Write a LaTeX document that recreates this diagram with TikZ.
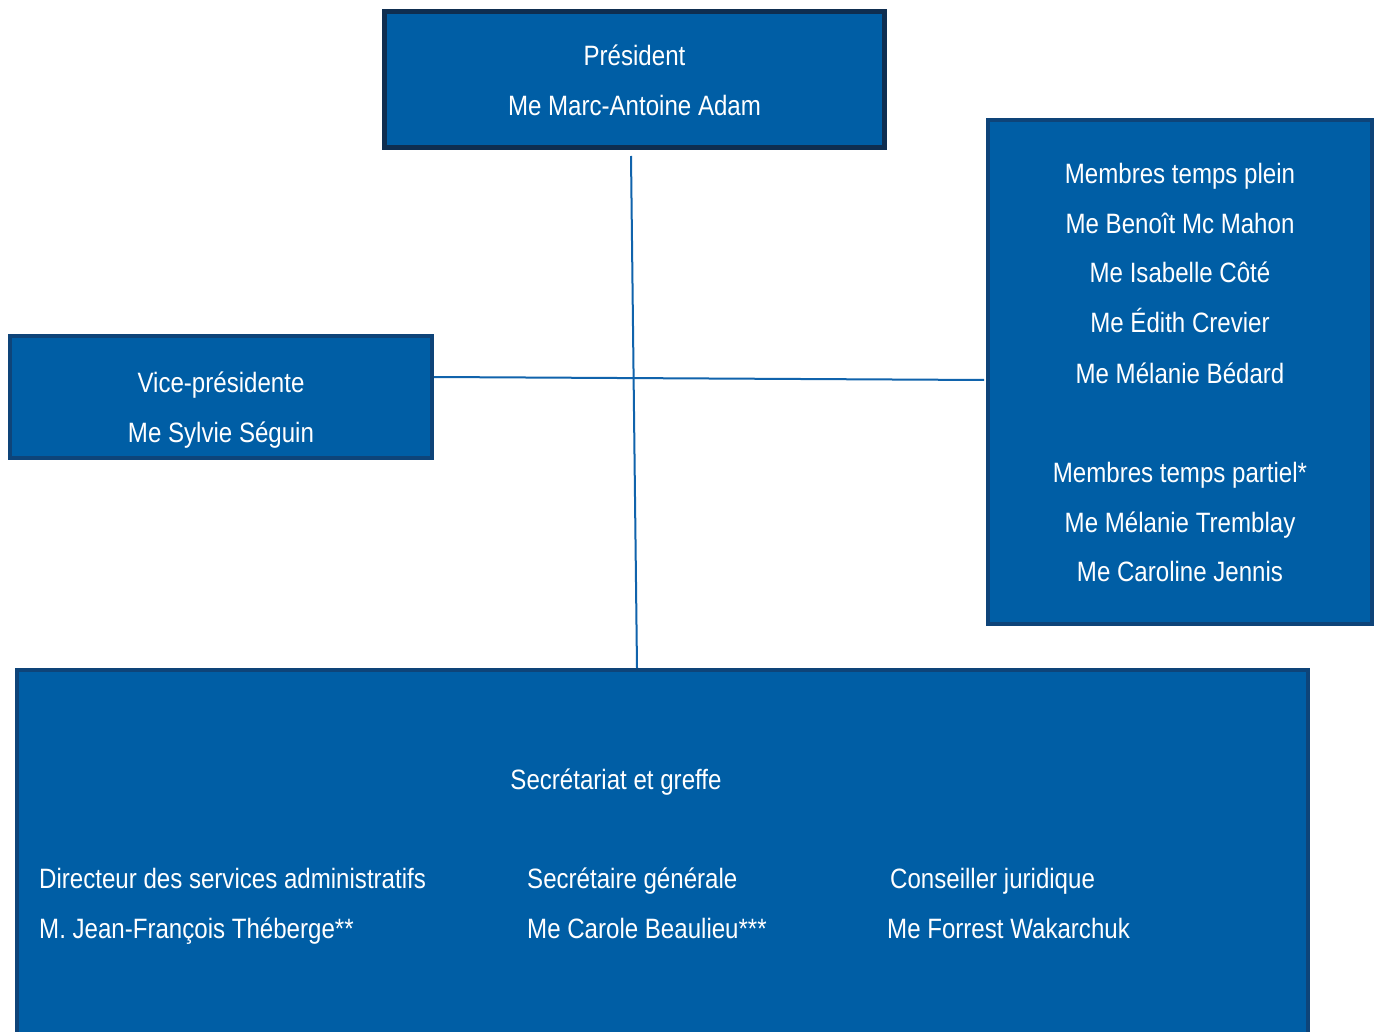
\documentclass[tikz,border=0pt]{standalone}
\usepackage{fontspec}
\setmainfont[FakeStretch=0.86]{Liberation Sans}
\definecolor{boxfill}{HTML}{005EA5}
\definecolor{presborder}{HTML}{0F2E50}
\definecolor{boxborder}{HTML}{0E4479}
\definecolor{linkc}{HTML}{1063AC}
\tikzset{
  orgbox/.style={draw=boxborder, fill=boxfill, line width=4pt, inner sep=0pt, rectangle},
  lbl/.style={text=white, font=\fontsize{28}{34}\selectfont, inner sep=0pt, anchor=base},
  lbll/.style={lbl, anchor=base west},
  link/.style={draw=linkc, line width=2pt}
}
\begin{document}
\begin{tikzpicture}[x=1pt,y=-1pt]
\clip (0,0) rectangle (1376,1032);
\fill[white] (0,0) rectangle (1376,1032);
% boxes
\node[orgbox, draw=presborder, line width=5pt, minimum width=500pt, minimum height=136pt] (pres) at (634.5,79.5) {};
\node[orgbox, minimum width=422pt, minimum height=122pt] (vice) at (221,397) {};
\node[orgbox, minimum width=384pt, minimum height=504pt] (mem) at (1180,372) {};
\node[orgbox, minimum width=1291pt, minimum height=428pt] (sec) at (662.5,884) {};
% connectors
\coordinate (ptop) at (631,156);
\coordinate (memgap) at (984,380);
\draw[link] (ptop) -- (637,0 |- sec.north);
\draw[link] ([yshift=20pt]vice.east) -- (memgap);
% texts
\node[lbl] (t1) at (634.5,66) {Président};
\node[lbl] (t2) at (634.5,116) {Me Marc-Antoine Adam};
\node[lbl] (v1) at (221,392) {Vice-présidente};
\node[lbl] (v2) at (221,442) {Me Sylvie Séguin};
\node[lbl] (m1) at (1180,184) {Membres temps plein};
\node[lbl] (m2) at (1180,234) {Me Benoît Mc Mahon};
\node[lbl] (m3) at (1180,283) {Me Isabelle Côté};
\node[lbl] (m4) at (1180,333) {Me Édith Crevier};
\node[lbl] (m5) at (1180,383) {Me Mélanie Bédard};
\node[lbl] (m6) at (1180,482) {Membres temps partiel*};
\node[lbl] (m7) at (1180,532) {Me Mélanie Tremblay};
\node[lbl] (m8) at (1180,581) {Me Caroline Jennis};
\node[lbl] (s0) at (616,789) {Secrétariat et greffe};
\node[lbll] (s1) at (39,888) {Directeur des services administratifs};
\node[lbll] (s2) at (39,938) {M. Jean-François Théberge**};
\node[lbll] (s3) at (527,888) {Secrétaire générale};
\node[lbll] (s4) at (527,938) {Me Carole Beaulieu***};
\node[lbll] (s5) at (890,888) {Conseiller juridique};
\node[lbll] (s6) at (887,938) {Me Forrest Wakarchuk};
\end{tikzpicture}
\end{document}
